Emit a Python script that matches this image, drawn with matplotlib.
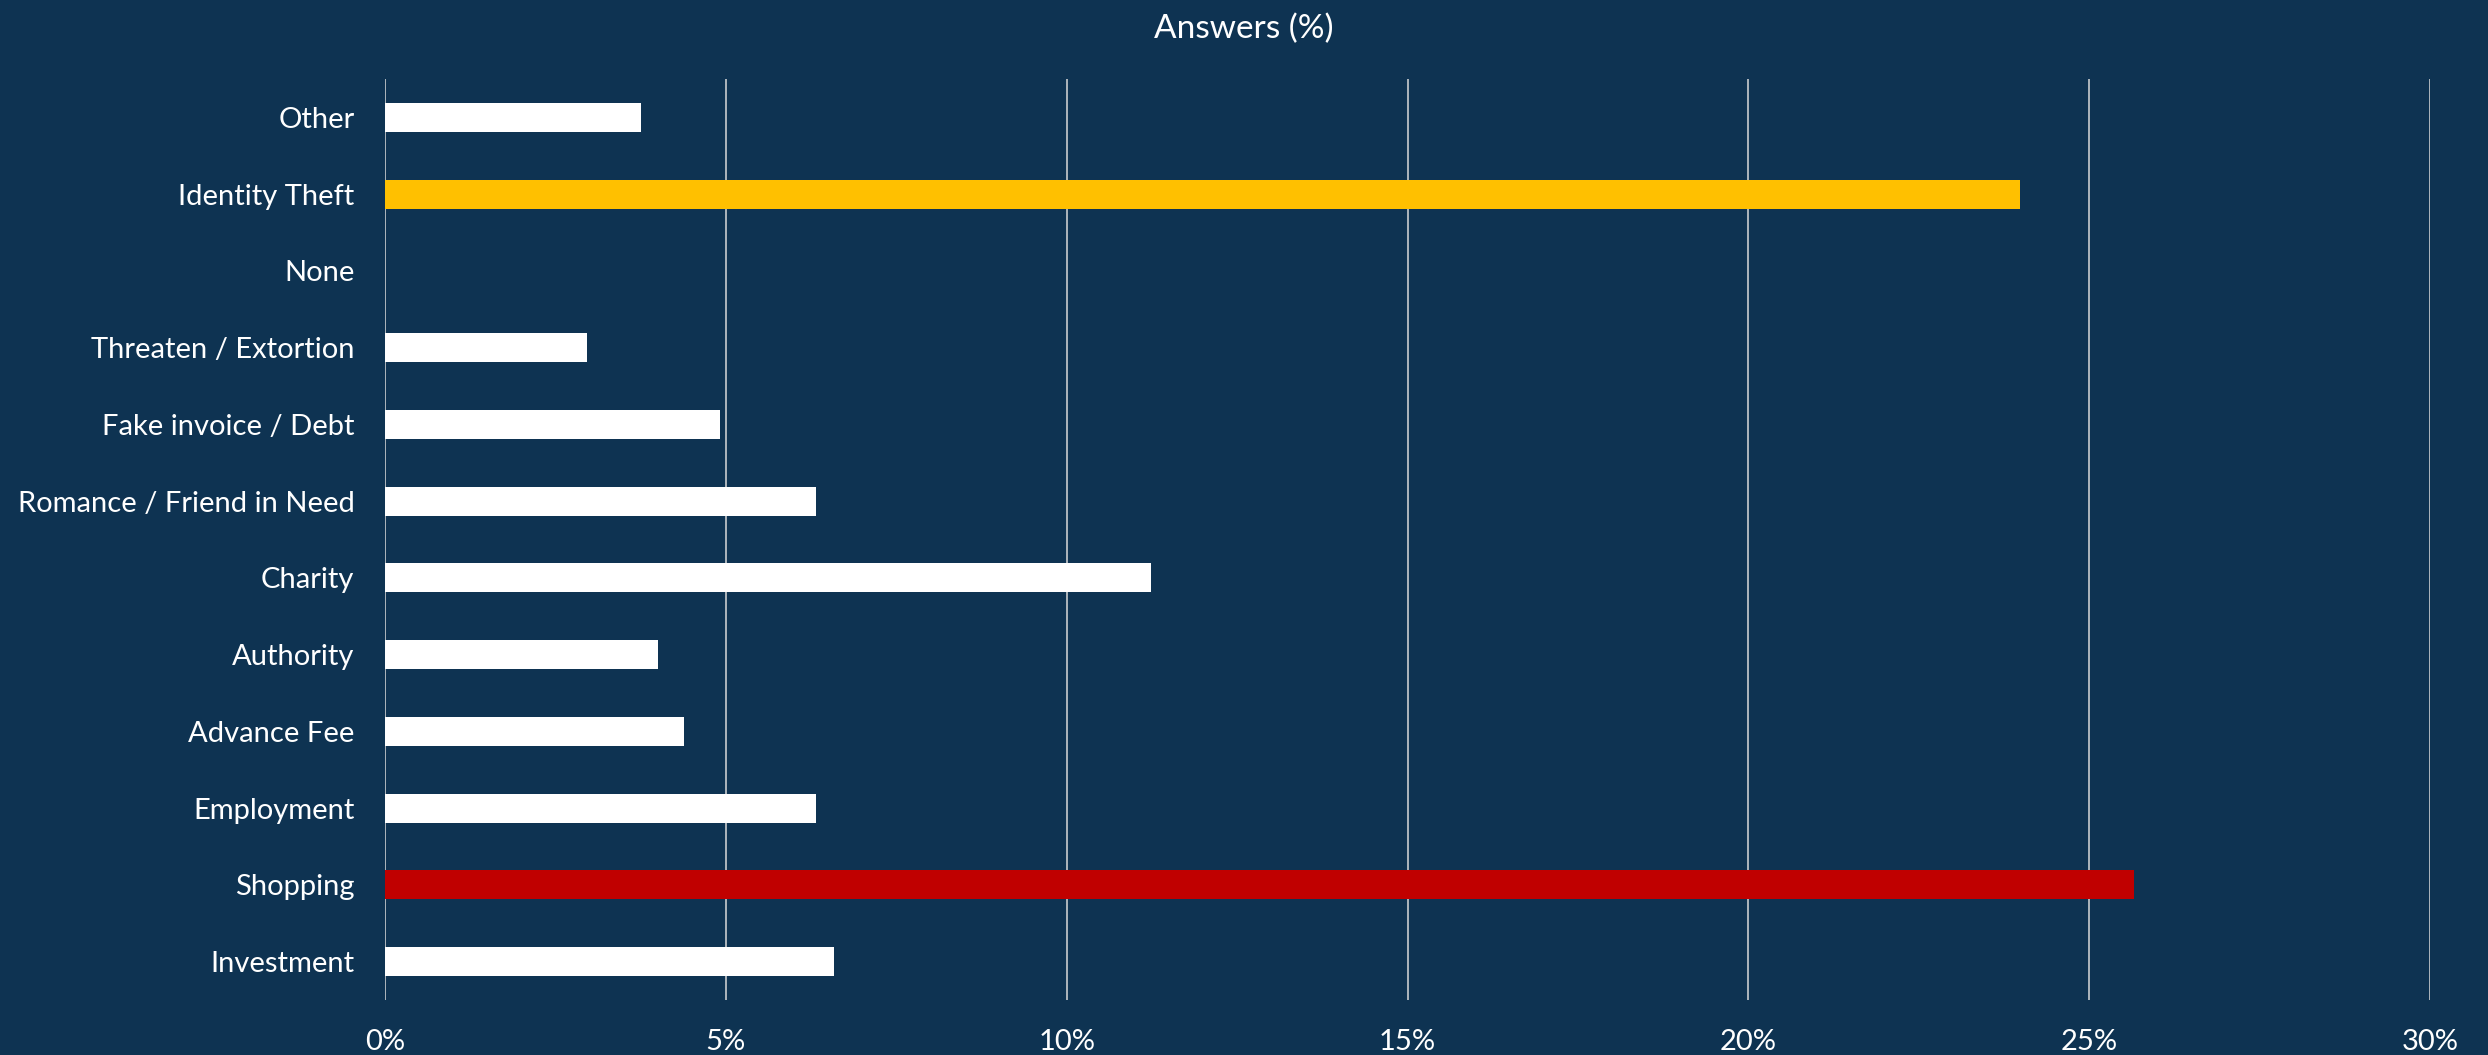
import matplotlib
matplotlib.use("Agg")
import matplotlib.pyplot as plt
from matplotlib.ticker import PercentFormatter

# answer categories, top to bottom
categories = ["Other", "Identity Theft", "None", "Threaten / Extortion",
              "Fake invoice / Debt", "Romance / Friend in Need", "Charity",
              "Authority", "Advance Fee", "Employment", "Shopping", "Investment"]
answers_pct = [3.75, 23.98, 0.0, 2.97, 4.91, 6.32, 11.23, 4.01, 4.39, 6.32, 25.66, 6.58]
x_ticks = [0, 5, 10, 15, 20, 25, 30]

BG = "#0E3352"
highlight = {"Identity Theft": "#FFC000", "Shopping": "#C00000"}
bar_colors = [highlight.get(c, "#FFFFFF") for c in categories]

plt.rcParams["font.family"] = ["Lato", "DejaVu Sans"]

fig = plt.figure(figsize=(24.88, 10.55), dpi=100, facecolor=BG)
ax = fig.add_axes([385 / 2488, 55 / 1055, 2045 / 2488, 921 / 1055], facecolor=BG)

ax.barh(categories, answers_pct, height=0.38, color=bar_colors, zorder=3)

ax.set_xlim(0, 30)
ax.set_ylim(-0.5, len(categories) - 0.5)
ax.invert_yaxis()
ax.set_xticks(x_ticks)
ax.xaxis.set_major_formatter(PercentFormatter(decimals=0))

# vertical gridlines only
ax.grid(axis="x", color="#D9D9D9", linewidth=1.1, zorder=0)
for side in ["top", "right", "bottom", "left"]:
    ax.spines[side].set_visible(False)

ax.tick_params(axis="x", length=0, pad=21, labelsize=21, labelcolor="white")
ax.tick_params(axis="y", length=0, pad=22, labelsize=21, labelcolor="white")

fig.text(0.5, 1 - 29 / 1055, "Answers (%)", ha="center", va="center",
         fontsize=24, color="white")

fig.savefig("out.png", dpi=100, facecolor=BG)
